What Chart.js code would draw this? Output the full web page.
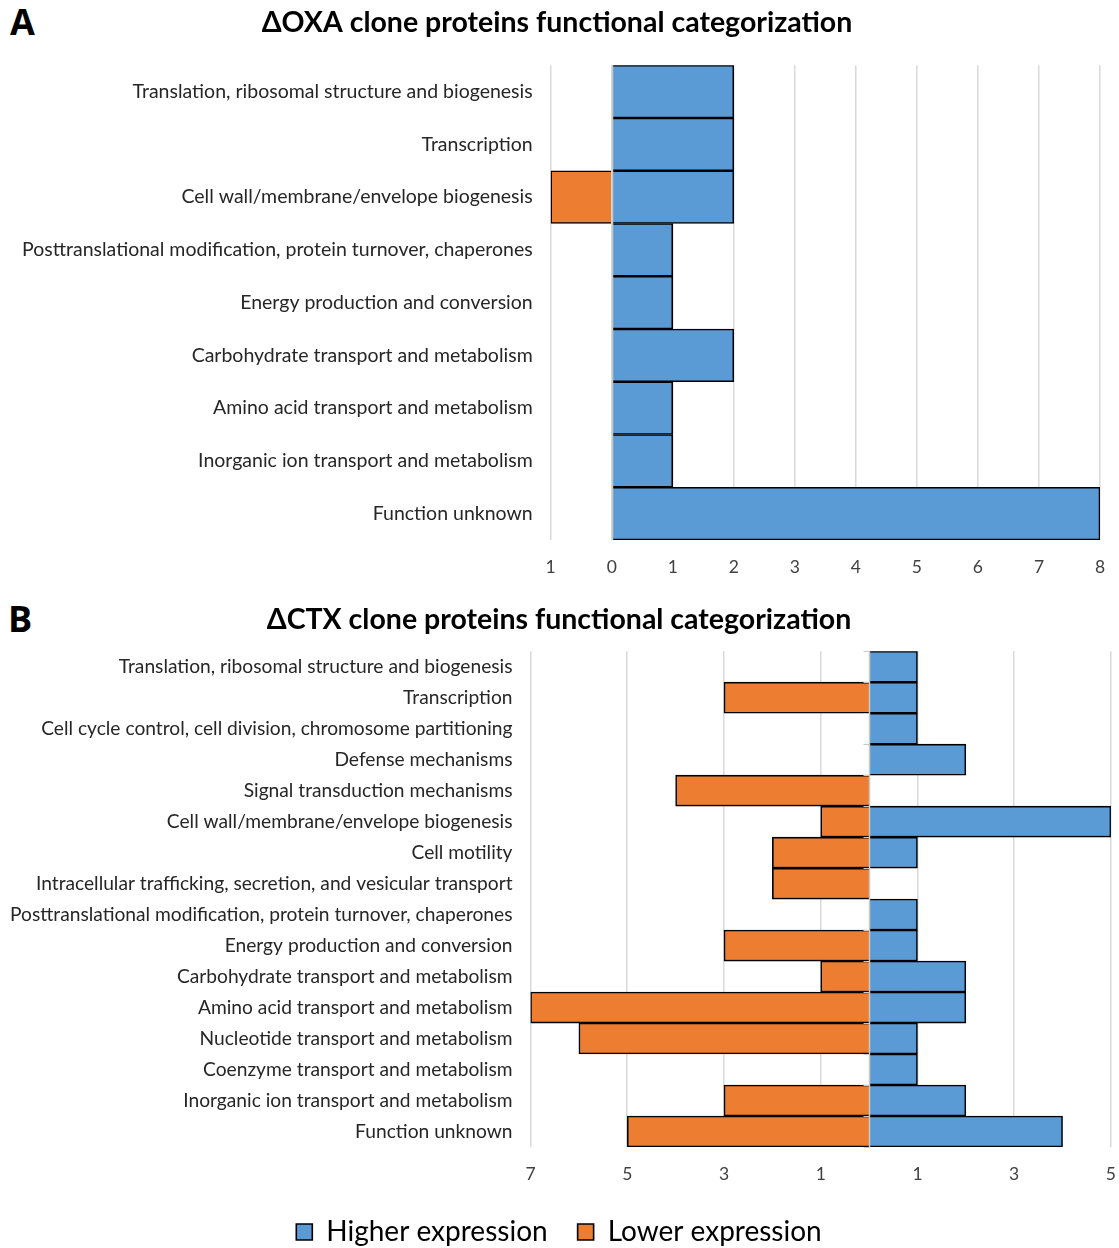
<!DOCTYPE html>
<html>
<head>
<meta charset="utf-8">
<script src="https://cdn.jsdelivr.net/npm/chart.js@4/dist/chart.umd.min.js"></script>
<style>
  html, body { margin: 0; padding: 0; background: #fff; }
  body { width: 1119px; height: 1248px; position: relative; overflow: hidden; font-family: Lato, "Open Sans", sans-serif; }
  .panel { position: absolute; left: 0; width: 1119px; }
  .tag { position: absolute; font-family: "Open Sans", Lato, sans-serif; font-weight: 700; font-size: 36px; color: #000; line-height: 1; }
</style>
</head>
<body>
<div class="tag" style="left:10px; top:4px;">A</div>
<div class="tag" style="left:8px; top:601px;">B</div>
<div class="panel" style="top:0; height:595px;"><canvas id="chartA"></canvas></div>
<div class="panel" style="top:590px; height:666px;"><canvas id="chartB"></canvas></div>
<script>
// ---------- Data ----------
const titleA = "ΔOXA clone proteins functional categorization";
const categoriesA = [
  "Translation, ribosomal structure and biogenesis",
  "Transcription",
  "Cell wall/membrane/envelope biogenesis",
  "Posttranslational modification, protein turnover, chaperones",
  "Energy production and conversion",
  "Carbohydrate transport and metabolism",
  "Amino acid transport and metabolism",
  "Inorganic ion transport and metabolism",
  "Function unknown"
];
const higherA = [2, 2, 2, 1, 1, 2, 1, 1, 8];
const lowerA  = [0, 0, 1, 0, 0, 0, 0, 0, 0];

const titleB = "ΔCTX clone proteins functional categorization";
const categoriesB = [
  "Translation, ribosomal structure and biogenesis",
  "Transcription",
  "Cell cycle control, cell division, chromosome partitioning",
  "Defense mechanisms",
  "Signal transduction mechanisms",
  "Cell wall/membrane/envelope biogenesis",
  "Cell motility",
  "Intracellular trafficking, secretion, and vesicular transport",
  "Posttranslational modification, protein turnover, chaperones",
  "Energy production and conversion",
  "Carbohydrate transport and metabolism",
  "Amino acid transport and metabolism",
  "Nucleotide transport and metabolism",
  "Coenzyme transport and metabolism",
  "Inorganic ion transport and metabolism",
  "Function unknown"
];
const higherB = [1, 1, 1, 2, 0, 5, 1, 0, 1, 1, 2, 2, 1, 1, 2, 4];
const lowerB  = [0, 3, 0, 0, 4, 1, 2, 2, 0, 3, 1, 7, 6, 0, 3, 5];

const seriesNames = ["Higher expression", "Lower expression"];
const axisA = { min: -1, max: 8, step: 1 };
const axisB = { min: -7, max: 5, step: 2 };

// ---------- Styles ----------
const BLUE = "#5B9BD5";
const ORANGE = "#ED7D31";
const FONT = "Lato, 'Open Sans', sans-serif";
const CLEAR = "rgba(0,0,0,0)";

const zeroLine = {
  id: "zeroLine",
  afterDatasetsDraw(chart, args, opts) {
    const x = chart.scales.x, ctx = chart.ctx;
    const x0 = Math.round(x.getPixelForValue(0)) + 0.5;
    ctx.save();
    ctx.strokeStyle = "#c8c8c8";
    ctx.lineWidth = 1.5;
    ctx.beginPath();
    ctx.moveTo(x0, chart.chartArea.top);
    ctx.lineTo(x0, chart.chartArea.bottom);
    ctx.stroke();
    if (opts.ticks) {
      const n = chart.data.labels.length;
      const h = (chart.chartArea.bottom - chart.chartArea.top) / n;
      ctx.lineWidth = 1;
      for (let i = 0; i <= n; i++) {
        const yy = Math.round(chart.chartArea.top + i * h) + 0.5;
        ctx.beginPath();
        ctx.moveTo(x0 - 6, yy);
        ctx.lineTo(x0, yy);
        ctx.stroke();
      }
    }
    ctx.restore();
  }
};

function makeChart(id, title, cats, hi, lo, ax, o) {
  return new Chart(document.getElementById(id), {
    type: "bar",
    data: {
      labels: cats,
      datasets: [
        { label: seriesNames[0], data: hi, backgroundColor: BLUE, borderColor: "#000", borderWidth: 1.6,
          categoryPercentage: 1, barPercentage: 1 },
        { label: seriesNames[1], data: lo.map(v => -v), backgroundColor: ORANGE, borderColor: "#000", borderWidth: 1.6,
          categoryPercentage: 1, barPercentage: 1 }
      ]
    },
    options: {
      indexAxis: "y",
      responsive: true,
      maintainAspectRatio: false,
      animation: false,
      layout: { padding: o.padding },
      scales: {
        x: {
          stacked: true,
          min: ax.min, max: ax.max,
          border: { display: false },
          grid: { color: "#d9d9d9", lineWidth: 1.5, drawTicks: true, tickLength: 14, tickColor: CLEAR },
          ticks: { stepSize: ax.step, padding: 3, color: "#404040",
                   font: { family: FONT, size: 17.5 },
                   callback: v => Math.abs(v) }
        },
        y: {
          stacked: true,
          border: { display: false },
          grid: { display: true, color: CLEAR, drawTicks: true, tickLength: 10, tickColor: CLEAR },
          ticks: { color: "#262626", padding: 8, autoSkip: false,
                   font: { family: FONT, size: o.labelSize } }
        }
      },
      plugins: {
        zeroLine: { ticks: o.zeroTicks },
        tooltip: { enabled: false },
        title: { display: true, text: title, color: "#000",
                 font: { family: FONT, size: 28.5, weight: "bold" },
                 padding: o.titlePad },
        legend: o.legend ? {
          display: true, position: "bottom",
          labels: { color: "#000", boxWidth: 16, boxHeight: 16, padding: 30,
                    font: { family: FONT, size: 28 } }
        } : { display: false }
      }
    },
    plugins: [zeroLine]
  });
}

makeChart("chartA", titleA, categoriesA, higherA, lowerA, axisA,
  { padding: { left: 14, right: 19, top: 4, bottom: 14 }, labelSize: 19.5,
    titlePad: { top: 2, bottom: 25 }, legend: false, zeroTicks: false });
makeChart("chartB", titleB, categoriesB, higherB, lowerB, axisB,
  { padding: { left: 2, right: 3, top: 10, bottom: 0 }, labelSize: 19.2,
    titlePad: { top: 3, bottom: 14 }, legend: true, zeroTicks: true });
</script>
</body>
</html>
